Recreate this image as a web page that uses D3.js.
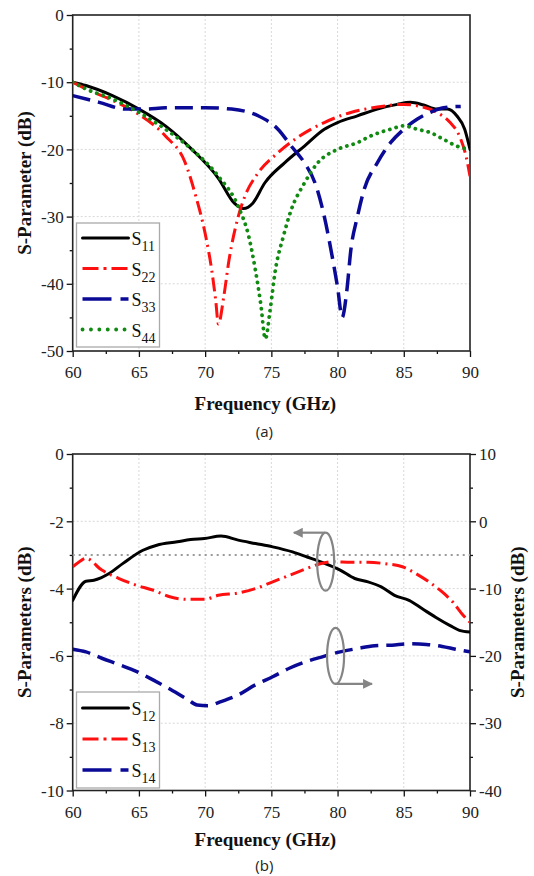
<!DOCTYPE html>
<html>
<head>
<meta charset="utf-8">
<script src="https://cdn.jsdelivr.net/npm/d3@7"></script>
<style>
  html, body { margin: 0; padding: 0; background: #fff; }
  svg { display: block; }
  .tick-label { font-family: "Liberation Serif", "Times New Roman", serif; font-size: 17px; fill: #222; }
  .axis-title { font-family: "Liberation Serif", "Times New Roman", serif; font-size: 19px; font-weight: bold; fill: #111; }
  .panel-label { font-family: "Open Sans", "Noto Sans", sans-serif; font-size: 15px; fill: #222; }
  .legend-text { font-family: "Liberation Serif", "Times New Roman", serif; font-size: 18px; fill: #111; }
</style>
</head>
<body>
<svg id="chart" width="534" height="876"></svg>
<script>
// ---------- data: panel (a), reflection coefficients ----------
const s11Freq = [60, 61, 63, 65, 67, 69, 71, 72.2, 72.9, 73.6, 74.5, 76, 77.5, 79, 80, 81.5, 83, 84.5, 85.5, 86.5, 87.5, 88.3, 89, 89.6, 90];
const s11Val  = [-10, -10.5, -12, -14, -16.5, -20, -24.3, -28, -28.8, -28, -25, -22, -19.5, -17, -16, -15, -14, -13.3, -13, -13.4, -14, -14, -15, -17, -20];

const s22Freq = [60, 61, 63, 65, 67, 68.5, 69.3, 70, 70.5, 70.8, 71.0, 71.4, 71.8, 72.5, 73, 74, 75.5, 77, 79, 81, 83, 85, 86, 87.5, 88.5, 89.2, 89.7, 90];
const s22Val  = [-10, -11, -12.7, -14.8, -18, -22, -27, -32.5, -38, -42.5, -46, -42, -36.5, -30, -27, -23.5, -20.5, -18.2, -16, -14.5, -13.7, -13.3, -13.5, -14.5, -16, -18, -21, -24];

const s33Freq = [60, 62, 64, 65.5, 67, 70, 72, 74, 75.5, 76.5, 77.5, 78.3, 79, 79.6, 80, 80.35, 80.7, 81, 81.5, 82, 83, 84, 85, 86, 87, 88, 89.3];
const s33Val  = [-12, -13, -14, -14, -13.8, -13.8, -14, -15, -17, -19.5, -22, -25, -30, -36, -40.5, -45, -41, -35, -30, -26, -22, -19, -17, -15.5, -14.5, -13.8, -13.6];

const s44Freq = [60, 61, 63, 65, 67, 69, 71, 72.5, 73.3, 73.8, 74.2, 74.55, 74.9, 75.3, 75.9, 76.5, 77.5, 78.5, 80, 81.5, 82.5, 84, 85, 86, 87, 88, 89, 90];
const s44Val  = [-10, -11, -12.5, -14.5, -17, -20, -24, -28.5, -33, -38, -43, -48.2, -44, -38, -33, -29, -25, -22, -20, -19, -18, -17, -16.5, -17, -17.5, -18.5, -19.5, -20];

// ---------- data: panel (b), transmission / isolation ----------
const s12Freq = [60, 61, 61.6, 62.75, 63.8, 65.3, 66.35, 67.9, 68.9, 69.95, 71.2, 72.5, 73.8, 75.1, 76.6, 77.7, 78.9, 80.2, 81.3, 82.3, 83.3, 84.3, 85.4, 86.4, 87.4, 88.5, 89.2, 90];
const s12Val  = [-4.35, -3.78, -3.75, -3.55, -3.25, -2.86, -2.71, -2.61, -2.54, -2.51, -2.44, -2.56, -2.66, -2.76, -2.91, -3.06, -3.23, -3.45, -3.7, -3.8, -3.95, -4.2, -4.35, -4.6, -4.85, -5.1, -5.24, -5.29];

const s13Freq = [60, 60.5, 61, 62.2, 63.5, 64.8, 66.1, 67.4, 68.7, 69.95, 71, 72.5, 73.8, 75.1, 76.4, 77.7, 78.7, 79.7, 81, 82.3, 83.6, 84.9, 85.9, 86.9, 87.9, 88.7, 89.5, 90];
const s13Val  = [-3.35, -3.2, -3.1, -3.45, -3.7, -3.9, -4.05, -4.25, -4.32, -4.32, -4.2, -4.13, -4.0, -3.8, -3.6, -3.4, -3.26, -3.2, -3.22, -3.22, -3.26, -3.35, -3.55, -3.8, -4.1, -4.4, -4.8, -5.0];

// S14 is read against the right-hand axis
const s14Freq = [60, 61, 62.2, 63.5, 64.8, 66.1, 67.4, 68.7, 69.4, 70.2, 71.2, 72.5, 73.8, 75.1, 76.4, 77.7, 78.9, 80.2, 81.5, 82.8, 84.1, 85.4, 86.7, 87.9, 88.9, 90];
const s14Val  = [-19.0, -19.4, -20.35, -21.3, -22.3, -23.6, -25.0, -26.5, -27.3, -27.4, -26.8, -25.8, -24.3, -23.1, -21.8, -20.8, -20.1, -19.4, -18.9, -18.5, -18.4, -18.2, -18.3, -18.6, -19.0, -19.4];

// ---------- ticks ----------
const freqTicks   = [60, 65, 70, 75, 80, 85, 90];
const freqMinor   = [62.5, 67.5, 72.5, 77.5, 82.5, 87.5];
const aTicks      = [0, -10, -20, -30, -40, -50];
const aMinor      = [-5, -15, -25, -35, -45];
const bLeftTicks  = [0, -2, -4, -6, -8, -10];
const bLeftMinor  = [-1, -3, -5, -7, -9];
const bRightTicks = [10, 0, -10, -20, -30, -40];
const bRightMinor = [5, -5, -15, -25, -35];
const halfPowerLevel = -3;

// ---------- styles ----------
const styles = {
  black: { color: "#000000", dash: null,      cap: "round", width: 3 },
  red:   { color: "#ff1010", dash: "14 5 2 5", cap: "butt", width: 3 },
  blue:  { color: "#0a0a96", dash: "18 8",     cap: "butt", width: 3.5 },
  green: { color: "#108a10", dash: "0.1 6.5",  cap: "round", width: 3.8 }
};

// plain hyphen-minus labels
const tickFmt = d => String(d);

const svg = d3.select("#chart");
const X0 = 72.7, X1 = 470;
const serif = '"Liberation Serif", "Times New Roman", serif';

function drawPanel(cfg) {
  const g = svg.append("g");
  const x = d3.scaleLinear().domain([60, 90]).range([X0, X1]);
  const y = d3.scaleLinear().domain(cfg.yDomain).range([cfg.top, cfg.bottom]);

  // dotted grid
  g.append("g").selectAll("line").data(freqTicks.slice(1, -1)).join("line")
    .attr("x1", d => x(d)).attr("x2", d => x(d))
    .attr("y1", cfg.top).attr("y2", cfg.bottom)
    .attr("stroke", "#d8d8d8").attr("stroke-width", 1).attr("stroke-dasharray", "2 2");
  g.append("g").selectAll("line").data(cfg.yTicks.slice(1, -1)).join("line")
    .attr("x1", X0).attr("x2", X1)
    .attr("y1", d => y(d)).attr("y2", d => y(d))
    .attr("stroke", "#d8d8d8").attr("stroke-width", 1).attr("stroke-dasharray", "2 2");

  // axes with outward ticks
  const xAxis = d3.axisBottom(x).tickValues(freqTicks).tickSize(6).tickPadding(4).tickFormat(tickFmt);
  const xMinor = d3.axisBottom(x).tickValues(freqMinor).tickSize(3).tickFormat("");
  const yAxis = d3.axisLeft(y).tickValues(cfg.yTicks).tickSize(6).tickPadding(3).tickFormat(tickFmt);
  const yMinor = d3.axisLeft(y).tickValues(cfg.yMinor).tickSize(3).tickFormat("");

  const styleAxis = sel => {
    sel.attr("font-family", serif).attr("font-size", 17);
    sel.select(".domain").remove();
    sel.selectAll(".tick line").attr("stroke", "#111").attr("stroke-width", 1.3);
    sel.selectAll(".tick text").attr("class", "tick-label").attr("fill", "#222");
  };
  g.append("g").attr("transform", `translate(0,${cfg.bottom})`).call(xAxis).call(styleAxis)
    .selectAll(".tick text").attr("dy", "1.0em");
  g.append("g").attr("transform", `translate(0,${cfg.bottom})`).call(xMinor).call(styleAxis);
  g.append("g").attr("transform", `translate(${X0},0)`).call(yAxis).call(styleAxis)
    .selectAll(".tick text").attr("dy", "0.34em");
  g.append("g").attr("transform", `translate(${X0},0)`).call(yMinor).call(styleAxis);

  let y2 = null;
  if (cfg.y2Domain) {
    y2 = d3.scaleLinear().domain(cfg.y2Domain).range([cfg.top, cfg.bottom]);
    const rAxis = d3.axisRight(y2).tickValues(cfg.y2Ticks).tickSize(6).tickPadding(3).tickFormat(tickFmt);
    const rMinor = d3.axisRight(y2).tickValues(cfg.y2Minor).tickSize(3).tickFormat("");
    g.append("g").attr("transform", `translate(${X1},0)`).call(rAxis).call(styleAxis)
      .selectAll(".tick text").attr("dy", "0.34em");
    g.append("g").attr("transform", `translate(${X1},0)`).call(rMinor).call(styleAxis);
  }

  // frame
  g.append("rect").attr("x", X0).attr("y", cfg.top).attr("width", X1 - X0).attr("height", cfg.bottom - cfg.top)
    .attr("fill", "none").attr("stroke", "#222").attr("stroke-width", 1.6);

  // clip
  const clipId = "clip-" + cfg.id;
  svg.append("clipPath").attr("id", clipId).append("rect")
    .attr("x", X0).attr("y", cfg.top - 2).attr("width", X1 - X0).attr("height", cfg.bottom - cfg.top + 4);

  // reference line
  if (cfg.refLine !== undefined) {
    g.append("line").attr("x1", X0).attr("x2", X1)
      .attr("y1", y(cfg.refLine)).attr("y2", y(cfg.refLine))
      .attr("stroke", "#999").attr("stroke-width", 2).attr("stroke-dasharray", "2 4");
  }

  // curves
  const curves = g.append("g").attr("clip-path", `url(#${clipId})`);
  cfg.series.forEach(s => {
    const sc = s.axis === "right" ? y2 : y;
    const line = d3.line().x(d => x(d[0])).y(d => sc(d[1])).curve(d3.curveMonotoneX);
    const st = styles[s.style];
    curves.append("path").datum(d3.zip(s.freq, s.val))
      .attr("d", line).attr("fill", "none")
      .attr("stroke", st.color).attr("stroke-width", st.width)
      .attr("stroke-linecap", st.cap).attr("stroke-linejoin", "round")
      .attr("stroke-dasharray", st.dash);
  });

  // legend
  const L = cfg.legend;
  g.append("rect").attr("x", L.x).attr("y", L.y).attr("width", L.w).attr("height", L.h)
    .attr("fill", "#fff").attr("stroke", "#aaa").attr("stroke-width", 1.3);
  cfg.series.forEach((s, i) => {
    const st = styles[s.style];
    const ly = L.firstRow + i * L.rowGap;
    g.append("line").attr("x1", L.x + 6).attr("x2", L.x + 52).attr("y1", ly).attr("y2", ly)
      .attr("stroke", st.color).attr("stroke-width", st.width)
      .attr("stroke-linecap", st.cap)
      .attr("stroke-dasharray", s.legendDash || st.dash);
    const t = g.append("text").attr("class", "legend-text").attr("x", L.x + 55).attr("y", ly + 7).text("S");
    t.append("tspan").attr("font-size", 14).attr("dy", 6).text(s.sub);
  });

  // axis titles
  svg.append("text").attr("class", "axis-title").attr("text-anchor", "middle")
    .attr("transform", `translate(${cfg.yTitleX},${(cfg.top + cfg.bottom) / 2}) rotate(-90)`)
    .text(cfg.yTitle);
  if (cfg.y2Title) {
    svg.append("text").attr("class", "axis-title").attr("text-anchor", "middle")
      .attr("transform", `translate(${cfg.y2TitleX},${(cfg.top + cfg.bottom) / 2}) rotate(-90)`)
      .text(cfg.y2Title);
  }
  svg.append("text").attr("class", "axis-title").attr("text-anchor", "middle")
    .attr("x", (X0 + X1) / 2 - 6).attr("y", cfg.bottom + cfg.titleGap).text("Frequency (GHz)");
  svg.append("text").attr("class", "panel-label").attr("text-anchor", "middle")
    .attr("x", (X0 + X1) / 2 - 7).attr("y", cfg.bottom + cfg.panelGap).text(cfg.panel);

  return { g, x, y, y2 };
}

// ---------- panel (a) ----------
drawPanel({
  id: "a", top: 15, bottom: 351, yDomain: [0, -50],
  yTicks: aTicks, yMinor: aMinor,
  yTitle: "S-Parameter (dB)", yTitleX: 31, panel: "(a)",
  titleGap: 59, panelGap: 86,
  legend: { x: 76.5, y: 223, w: 83, h: 124, firstRow: 238, rowGap: 30.5 },
  series: [
    { freq: s11Freq, val: s11Val, style: "black", sub: "11" },
    { freq: s22Freq, val: s22Val, style: "red",   sub: "22", legendDash: "16 5 3 5" },
    { freq: s33Freq, val: s33Val, style: "blue",  sub: "33", legendDash: "29 9 10" },
    { freq: s44Freq, val: s44Val, style: "green", sub: "44", legendDash: "0.1 8.3" }
  ]
});

// ---------- panel (b) ----------
const pb = drawPanel({
  id: "b", top: 454, bottom: 790.5, yDomain: [0, -10],
  yTicks: bLeftTicks, yMinor: bLeftMinor,
  y2Domain: [10, -40], y2Ticks: bRightTicks, y2Minor: bRightMinor,
  yTitle: "S-Parameters (dB)", yTitleX: 31,
  y2Title: "S-Parameters (dB)", y2TitleX: 524, panel: "(b)",
  titleGap: 55, panelGap: 80,
  refLine: halfPowerLevel,
  legend: { x: 76.5, y: 692, w: 83, h: 96, firstRow: 708, rowGap: 31 },
  series: [
    { freq: s12Freq, val: s12Val, style: "black", sub: "12", axis: "left" },
    { freq: s13Freq, val: s13Val, style: "red",   sub: "13", axis: "left", legendDash: "16 5 3 5" },
    { freq: s14Freq, val: s14Val, style: "blue",  sub: "14", axis: "right", legendDash: "29 9 10" }
  ]
});

// ---------- axis-indicator ellipses with arrows ----------
const gray = "#858585";
const defs = svg.append("defs");
defs.append("marker").attr("id", "arrowHead").attr("viewBox", "0 0 10 10")
  .attr("refX", 9).attr("refY", 5).attr("markerWidth", 5).attr("markerHeight", 4.5)
  .attr("orient", "auto-start-reverse")
  .append("path").attr("d", "M0,0 L10,5 L0,10 Z").attr("fill", gray);

const marks = [
  { cx: 79.1, cy: -3.2, axis: "left", rx: 8.5, ry: 29, arrowFrom: 79.05, arrowTo: 76.7, atTop: true },
  { cx: 79.85, cy: -20, axis: "right", rx: 8.5, ry: 28, arrowFrom: 79.8, arrowTo: 82.6, atTop: false }
];
marks.forEach(m => {
  const sc = m.axis === "right" ? pb.y2 : pb.y;
  const cx = pb.x(m.cx), cy = sc(m.cy);
  svg.append("ellipse").attr("cx", cx).attr("cy", cy).attr("rx", m.rx).attr("ry", m.ry)
    .attr("fill", "none").attr("stroke", gray).attr("stroke-width", 2.2);
  const ay = m.atTop ? cy - m.ry : cy + m.ry;
  svg.append("line").attr("x1", pb.x(m.arrowFrom)).attr("x2", pb.x(m.arrowTo))
    .attr("y1", ay).attr("y2", ay)
    .attr("stroke", gray).attr("stroke-width", 2.2)
    .attr("marker-end", "url(#arrowHead)");
});
</script>
</body>
</html>
